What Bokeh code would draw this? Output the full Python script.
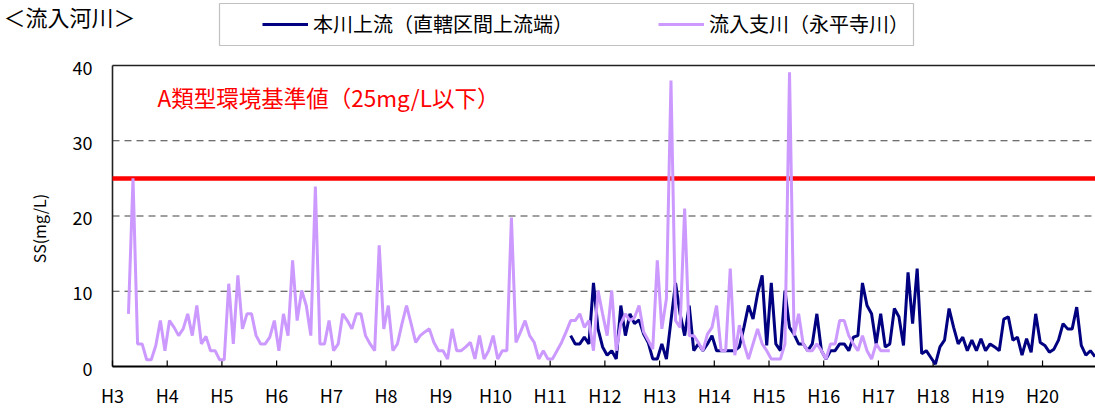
import numpy as np
from bokeh.plotting import figure
from bokeh.models import (ColumnDataSource, Label, Legend, LegendItem,
                          BoxAnnotation, Range1d)
from bokeh.core.properties import value
from bokeh.embed import file_html
from bokeh.resources import INLINE

# ---------------- data ----------------
year_labels = ["H3", "H4", "H5", "H6", "H7", "H8", "H9", "H10", "H11",
               "H12", "H13", "H14", "H15", "H16", "H17", "H18", "H19", "H20"]
y_ticks = [0, 10, 20, 30, 40]
grid_levels = [10, 20, 30]

hon_name = "本川上流（直轄区間上流端）"
shi_name = "流入支川（永平寺川）"
std_text = "A類型環境基準値（25mg/L以下）"
section_title = "＜流入河川＞"
y_title = "SS(mg/L)"
std_value = 25

# first observation (Heisei year, month)
hon_start = (11, 5)
shi_start = (3, 4)

# monthly SS (mg/L), 本川上流
hon_ss = [4.1, 3.0, 3.0, 3.9, 3.0, 11.1, 5.0, 2.6, 1.5, 2.1, 1.0, 8.1,
          4.1, 7.0, 5.7, 6.2, 4.3, 3.2, 1.0, 1.0, 3.0, 1.0, 6.1, 11.1,
          7.0, 4.1, 8.1, 2.1, 3.0, 2.1, 3.0, 4.1, 2.1, 2.1, 2.1, 2.1,
          2.1, 2.6, 5.2, 8.1, 6.3, 9.7, 12.1, 2.8, 11.1, 3.0, 2.1, 10.1,
          5.2, 4.3, 3.0, 3.0, 2.1, 3.0, 7.0, 2.1, 1.0, 2.1, 2.1, 3.0,
          3.0, 2.1, 3.9, 4.1, 11.1, 8.1, 7.0, 3.0, 7.0, 2.6, 3.0, 7.7,
          6.6, 2.8, 12.5, 5.7, 13.0, 1.7, 2.1, 1.2, 0.3, 2.6, 3.5, 7.7,
          5.2, 3.0, 3.9, 2.1, 3.5, 2.1, 3.7, 2.1, 3.0, 2.6, 2.1, 6.3,
          6.6, 3.5, 3.9, 1.5, 3.7, 1.9, 7.0, 3.2, 2.8, 1.9, 2.3, 3.5,
          5.7, 5.0, 5.0, 7.9, 2.8, 1.5, 2.1, 1.3]

# monthly SS (mg/L), 流入支川（永平寺川）
shi_ss = [7.0, 25.0, 3.0, 3.0, 0.9, 0.9, 2.8, 6.1, 2.1, 6.1, 5.2, 4.1,
          5.0, 7.0, 4.1, 8.1, 3.0, 4.0, 2.1, 2.1, 0.9, 0.9, 11.0, 3.0,
          12.1, 5.0, 7.0, 7.0, 4.1, 3.0, 3.0, 3.9, 6.1, 2.1, 7.0, 4.1,
          14.1, 6.1, 10.1, 8.1, 4.1, 23.9, 3.0, 3.0, 6.1, 2.1, 3.0, 7.0,
          6.1, 5.0, 7.0, 7.0, 4.1, 3.0, 2.1, 16.1, 5.0, 8.1, 2.1, 3.0,
          5.7, 8.1, 5.7, 3.2, 4.1, 4.6, 5.0, 3.2, 2.1, 2.1, 1.0, 5.0,
          2.1, 2.1, 2.6, 3.2, 1.0, 4.1, 1.0, 2.1, 4.1, 1.0, 2.1, 2.1,
          19.8, 3.2, 4.6, 6.1, 4.1, 3.2, 1.0, 2.1, 1.0, 1.0, 2.1, 3.2,
          4.6, 6.1, 6.1, 7.0, 5.2, 6.1, 2.1, 10.1, 7.0, 4.1, 10.1, 2.1,
          5.7, 7.0, 6.1, 6.5, 8.1, 4.6, 3.5, 2.3, 14.1, 5.0, 9.0, 38.0,
          6.1, 5.2, 21.0, 4.1, 4.1, 3.2, 2.1, 4.3, 5.2, 8.1, 2.1, 2.1,
          13.0, 1.5, 5.5, 3.0, 1.0, 3.0, 5.0, 3.0, 2.1, 1.0, 1.0, 1.0,
          3.0, 39.1, 4.1, 7.0, 3.0, 2.1, 2.1, 3.0, 2.1, 1.0, 3.0, 3.0,
          6.1, 6.1, 4.1, 3.0, 2.1, 4.1, 2.1, 1.0, 3.0, 2.1, 2.1, 2.1]

# ---------------- helpers ----------------
FIRST_YEAR = 3
HON_COLOR = "#000080"
SHI_COLOR = "#cc99ff"
FONT = "Noto Sans CJK JP"


def month_x(start, n):
    y, m = start
    base = (y - FIRST_YEAR) * 12 + (m - 1) + 0.5
    return base + np.arange(n)


hon_src = ColumnDataSource(dict(x=month_x(hon_start, len(hon_ss)), y=hon_ss))
shi_src = ColumnDataSource(dict(x=month_x(shi_start, len(shi_ss)), y=shi_ss))

# ---------------- layout geometry (pixels) ----------------
W, H = 1095, 412
PLOT_L, PLOT_T, PLOT_B = 112, 65, 366      # inner plotting area
Y_MAX = y_ticks[-1]
px_per_unit = (PLOT_B - PLOT_T) / Y_MAX
px_per_month = 4.559
x_start = -PLOT_L / px_per_month
x_end = (W - PLOT_L) / px_per_month
y_start = -(H - PLOT_B) / px_per_unit
y_end = PLOT_B / px_per_unit
tick_len = 6 / px_per_unit


def from_bottom(top_px):
    """screen units of annotations are measured up from the canvas bottom"""
    return H - top_px


p = figure(width=W, height=H, output_backend="svg", toolbar_location=None,
           x_range=Range1d(x_start, x_end), y_range=Range1d(y_start, y_end),
           x_axis_type=None, y_axis_type=None,
           min_border_left=0, min_border_right=0,
           min_border_top=0, min_border_bottom=0,
           background_fill_color="white", border_fill_color="white")
p.outline_line_color = None
p.grid.grid_line_color = None

# dashed horizontal grid
p.segment(x0=0, x1=x_end, y0=grid_levels, y1=grid_levels,
          line_color="#404040", line_width=1.2, line_dash="7 5")

# plot-area border (left and top)
p.segment(x0=[0, 0], x1=[0, x_end], y0=[0, Y_MAX], y1=[Y_MAX, Y_MAX],
          line_color="#222222", line_width=1.6)

# x axis: line, inward ticks at fiscal-year boundaries, labels
tick_pos = [i * 12 for i in range(len(year_labels))]
p.segment(x0=0, x1=x_end, y0=0, y1=0, line_color="black", line_width=2)
p.segment(x0=tick_pos, x1=tick_pos, y0=0, y1=tick_len,
          line_color="black", line_width=1.2)
p.text(x=tick_pos, y=0, text=year_labels, y_offset=28,
       text_align="center", text_baseline="middle",
       text_font=value(FONT), text_font_size="18px", text_color="black")

# y tick labels
p.text(x=0, y=y_ticks, text=[str(v) for v in y_ticks],
       x_offset=-20, y_offset=2, text_align="right", text_baseline="middle",
       text_font=value(FONT), text_font_size="18px", text_color="black")

# y axis title
p.add_layout(Label(x=38, y=from_bottom(228), x_units="screen", y_units="screen",
                   text=y_title, angle=np.pi / 2, text_color="black",
                   text_font=FONT, text_font_size="16px",
                   text_align="center", text_baseline="middle"))

# environmental standard line
p.segment(x0=0, x1=x_end, y0=std_value, y1=std_value,
          line_color="#ff0000", line_width=4.5)

# series
r_hon = p.line("x", "y", source=hon_src, line_color=HON_COLOR, line_width=3)
r_shi = p.line("x", "y", source=shi_src, line_color=SHI_COLOR, line_width=3)

# standard text
p.add_layout(Label(x=157, y=from_bottom(96), x_units="screen", y_units="screen",
                   text=std_text, text_color="#ff0000",
                   text_font=FONT, text_font_size="22.5px",
                   text_baseline="middle", text_align="left"))

# section title
p.add_layout(Label(x=3, y=from_bottom(15), x_units="screen", y_units="screen",
                   text=section_title, text_color="black",
                   text_font=FONT, text_font_size="22px",
                   text_baseline="middle", text_align="left"))

# legend with its frame
p.add_layout(BoxAnnotation(left=219, right=913,
                           bottom=from_bottom(45), top=from_bottom(3),
                           left_units="screen", right_units="screen",
                           bottom_units="screen", top_units="screen",
                           fill_color="white", fill_alpha=0.0,
                           line_color="#333333", line_width=1.2))

legend = Legend(items=[LegendItem(label=hon_name, renderers=[r_hon]),
                       LegendItem(label=shi_name, renderers=[r_shi])],
                orientation="horizontal", location=(260, from_bottom(40)),
                padding=2, spacing=85, margin=0,
                glyph_width=46, glyph_height=20, label_standoff=5,
                label_height=24,
                label_text_font=FONT, label_text_font_size="20px",
                label_text_color="black",
                border_line_alpha=0, background_fill_alpha=0)
p.add_layout(legend, "center")

open("out.html", "w").write(file_html(p, INLINE))
